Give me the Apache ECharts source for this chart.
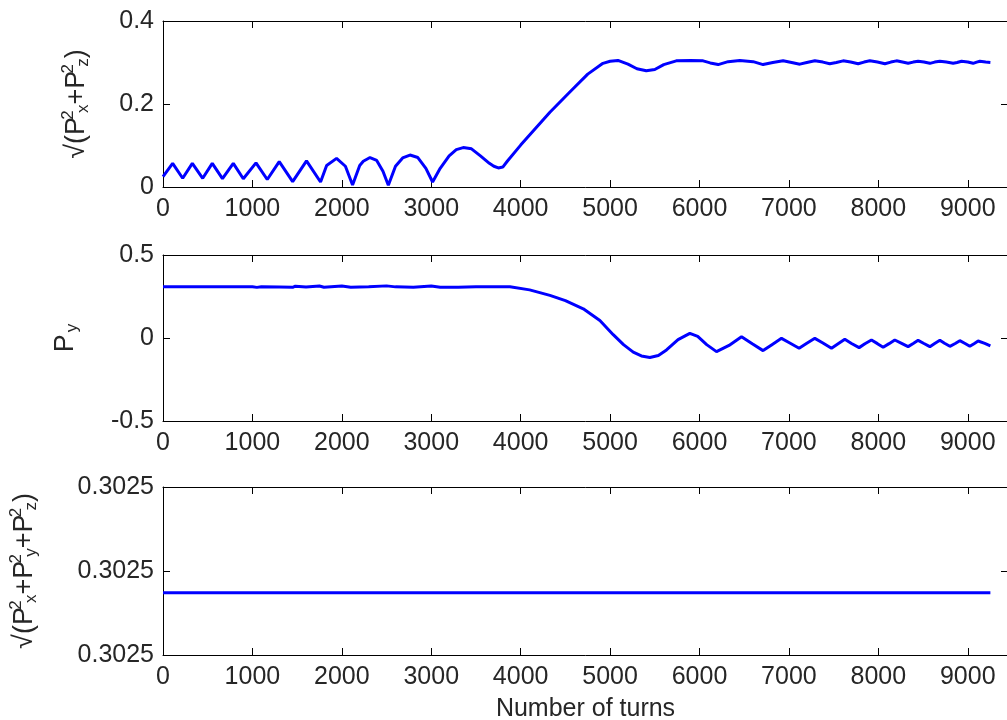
<!DOCTYPE html>
<html>
<head>
<meta charset="utf-8">
<script src="https://cdn.jsdelivr.net/npm/echarts@6/dist/echarts.min.js"></script>
<style>
html,body{margin:0;padding:0;background:#fff;}
#chart{width:1007px;height:720px;}
</style>
</head>
<body>
<div id="chart"></div>
<script>
// ---- data ----
const xTickLabels = [0,1000,2000,3000,4000,5000,6000,7000,8000,9000];

// top panel: sqrt(Px^2+Pz^2)
const topTurns = [0,108,220,328,444,551,665,786,898,1040,1166,1300,1450,1605,1762,1830,1941,2040,2120,2200,2240,2315,2390,2460,2520,2600,2680,2762,2850,2940,3015,3100,3200,3280,3357,3450,3550,3650,3700,3750,3800,3850,4000,4327,4550,4750,4920,5000,5088,5200,5300,5405,5500,5600,5740,5900,6040,6120,6208,6320,6451,6600,6711,6820,6935,7030,7122,7200,7290,7380,7457,7530,7606,7690,7774,7840,7905,7990,8073,8140,8203,8270,8333,8390,8445,8510,8576,8630,8688,8760,8837,8880,8930,9000,9060,9100,9135,9200,9253];
const topValues = [0.025,0.057,0.021,0.057,0.021,0.057,0.020,0.057,0.020,0.058,0.018,0.061,0.013,0.063,0.012,0.052,0.069,0.050,0.005,0.052,0.062,0.071,0.064,0.038,0.004,0.050,0.070,0.077,0.071,0.045,0.012,0.045,0.075,0.090,0.095,0.092,0.075,0.057,0.050,0.046,0.048,0.062,0.101,0.180,0.229,0.272,0.298,0.303,0.305,0.296,0.285,0.280,0.283,0.295,0.304,0.305,0.304,0.299,0.295,0.302,0.305,0.302,0.295,0.300,0.304,0.300,0.296,0.300,0.304,0.301,0.297,0.300,0.304,0.301,0.297,0.301,0.304,0.301,0.297,0.301,0.304,0.301,0.298,0.301,0.303,0.301,0.298,0.301,0.303,0.301,0.298,0.300,0.303,0.301,0.298,0.301,0.303,0.301,0.300];

// middle panel: Py
const midTurns = [0,1000,1050,1100,1300,1450,1480,1600,1750,1800,2000,2100,2300,2500,2600,2800,3000,3100,3300,3500,3700,3880,4100,4327,4500,4700,4886,5035,5150,5259,5350,5445,5540,5631,5760,5892,5980,6080,6190,6330,6470,6590,6711,6810,6917,7010,7114,7200,7290,7380,7476,7550,7625,7700,7785,7850,7923,7990,8054,8120,8184,8260,8333,8390,8445,8510,8576,8630,8688,8740,8800,8860,8911,8970,9023,9070,9116,9190,9253];
const midValues = [0.309,0.309,0.305,0.309,0.307,0.305,0.312,0.307,0.313,0.306,0.313,0.306,0.309,0.314,0.308,0.306,0.313,0.306,0.305,0.309,0.309,0.309,0.290,0.257,0.225,0.176,0.105,0.020,-0.040,-0.085,-0.108,-0.117,-0.105,-0.072,-0.010,0.028,0.010,-0.040,-0.082,-0.045,0.008,-0.035,-0.076,-0.040,-0.002,-0.030,-0.062,-0.032,-0.002,-0.030,-0.062,-0.035,-0.008,-0.033,-0.058,-0.035,-0.012,-0.034,-0.056,-0.034,-0.012,-0.032,-0.052,-0.033,-0.014,-0.033,-0.052,-0.033,-0.014,-0.032,-0.050,-0.033,-0.016,-0.033,-0.050,-0.034,-0.018,-0.032,-0.047];

// bottom panel: sqrt(Px^2+Py^2+Pz^2)
const botTurns = [0,1500,3000,4500,6000,7500,9253];
const botValues = [0.3024974,0.3024974,0.3024974,0.3024974,0.3024974,0.3024974,0.3024974];

// ---- chart ----
const FONT = 'Liberation Sans';
const TXT = '#262626';
const BLUE = '#0000ff';
function zip(a,b){return a.map((v,i)=>[v,b[i]]);}

const rich = {
  m:{fontSize:27,fontFamily:FONT,color:TXT},
  sp:{fontSize:17,fontFamily:FONT,color:TXT,padding:[0,0,16,2],width:0},
  sb:{fontSize:17,fontFamily:FONT,color:TXT,padding:[14,0,0,2]}
};

const grids = [
  {left:163,top:21,width:845,height:166,outerBoundsMode:'none',containLabel:false},
  {left:163,top:255,width:845,height:166,outerBoundsMode:'none',containLabel:false},
  {left:163,top:487,width:845,height:168,outerBoundsMode:'none',containLabel:false}
];

function xAxes(gi, withName){
  const common = {gridIndex:gi,type:'value',min:0,max:9450,interval:1000,
    axisLine:{show:true,onZero:false,lineStyle:{color:'#000',width:1}},
    axisTick:{show:true,inside:true,length:7,lineStyle:{color:'#000'}},
    splitLine:{show:false}};
  const b = Object.assign({}, common, {position:'bottom',
    axisLabel:{show:true,margin:10,fontSize:25,fontFamily:FONT,color:TXT,showMaxLabel:false,
      formatter:v=>(xTickLabels.indexOf(v)>=0?String(v):'')}});
  if(withName){
    b.name='Number of turns'; b.nameLocation='middle'; b.nameGap=42;
    b.nameTextStyle={fontSize:25,fontFamily:FONT,color:TXT};
  }
  const t = Object.assign({}, common, {position:'top',axisLabel:{show:false}});
  return [b,t];
}
function yAxes(gi,min,max,interval,fmt,name,gap){
  const common = {gridIndex:gi,type:'value',min:min,max:max,interval:interval,
    axisLine:{show:true,onZero:false,lineStyle:{color:'#000',width:1}},
    axisTick:{show:true,inside:true,length:7,lineStyle:{color:'#000'}},
    splitLine:{show:false}};
  const l = Object.assign({}, common, {position:'left',
    axisLabel:{show:true,margin:9,fontSize:25,fontFamily:FONT,color:TXT,formatter:fmt},
    name:name,nameLocation:'middle',nameRotate:90,nameGap:gap,
    nameTextStyle:{rich:rich,fontSize:27,fontFamily:FONT,color:TXT}});
  const r = Object.assign({}, common, {position:'right',axisLabel:{show:false}});
  return [l,r];
}

const option = {
  animation:false,
  backgroundColor:'#fff',
  grid:grids,
  xAxis:[].concat(xAxes(0,false),xAxes(1,false),xAxes(2,true)),
  yAxis:[].concat(
    yAxes(0,0,0.4,0.2,v=>String(+v.toFixed(1)),'{m|√(P}{sp|2}{sb|x}{m|+P}{sp|2}{sb|z}{m|)}',70),
    yAxes(1,-0.5,0.5,0.5,v=>String(+v.toFixed(1)),'{m|P}{sb|y}',82),
    yAxes(2,0.30249,0.30251,0.00001,v=>v.toFixed(4),'{m|√(P}{sp|2}{sb|x}{m|+P}{sp|2}{sb|y}{m|+P}{sp|2}{sb|z}{m|)}',122)
  ),
  series:[
    {type:'line',xAxisIndex:0,yAxisIndex:0,data:zip(topTurns,topValues),showSymbol:false,
      lineStyle:{color:BLUE,width:3},itemStyle:{color:BLUE}},
    {type:'line',xAxisIndex:2,yAxisIndex:2,data:zip(midTurns,midValues),showSymbol:false,
      lineStyle:{color:BLUE,width:3},itemStyle:{color:BLUE}},
    {type:'line',xAxisIndex:4,yAxisIndex:4,data:zip(botTurns,botValues),showSymbol:false,
      lineStyle:{color:BLUE,width:3},itemStyle:{color:BLUE}}
  ]
};
const chart = echarts.init(document.getElementById('chart'),null,{renderer:'canvas'});
chart.setOption(option);
</script>
</body>
</html>
